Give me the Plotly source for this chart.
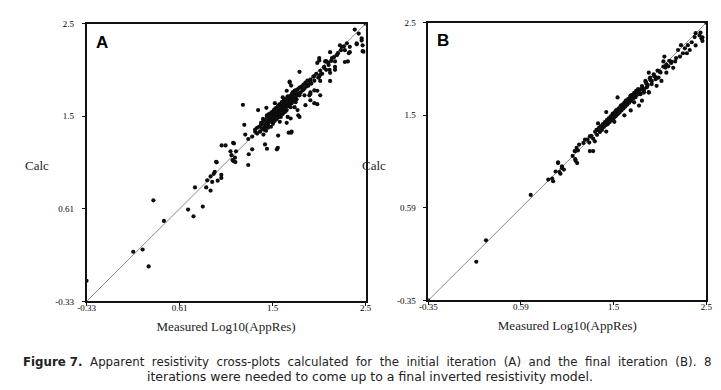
import plotly.graph_objects as go

# ---------------- data ----------------
# Panel A: initial iteration  (Measured Log10(AppRes), Calc)
a_x = [-0.33, 0.144, 0.239, 0.30, 0.348, 0.455, 0.70, 0.755, 0.849, 0.77, 0.884, 0.928, 0.894,
       0.944, 0.928, 0.96, 0.97, 0.99, 1.0, 1.037, 1.037, 1.14, 1.16, 1.18, 1.186, 0.984, 1.04,
       1.156, 1.13, 1.15, 1.256, 1.27, 1.31, 1.31, 1.28, 1.35, 1.40, 1.38, 1.464, 1.48, 1.50,
       1.61, 1.613, 1.63, 1.72, 1.745, 1.70, 1.74, 1.71, 1.817, 1.83, 1.94, 1.98, 2.01, 1.94,
       1.494, 1.50, 1.66, 1.78, 1.795,
       2.39, 2.43, 2.46, 2.41, 2.47, 2.48, 2.34, 2.33, 2.32, 2.29, 2.26, 2.31, 2.21, 2.19, 2.16,
       2.125, 2.135, 2.19, 2.03, 2.01, 2.09, 2.08, 2.04, 1.98, 2.04, 2.14, 2.01, 2.04, 1.94, 1.91,
       1.94, 1.845, 1.73, 1.745, 1.70, 1.78, 1.66, 1.81, 1.88, 1.76,
       1.08, 1.165, 1.175, 1.315, 1.35, 1.60, 1.75, 1.81, 1.89, 1.93, 1.98, 2.03, 2.10, 2.14,
       2.19, 2.29, 2.34, 2.41, 2.46, 2.47, 1.41, 1.58, 1.73, 1.83, 2.03, 2.14, 2.24, 2.5,
       1.38, 1.40, 1.42, 1.43, 1.44, 1.45, 1.46, 1.47, 1.48, 1.48, 1.49, 1.50, 1.50, 1.51, 1.52,
       1.52, 1.53, 1.54, 1.54, 1.55, 1.55, 1.56, 1.56, 1.57, 1.57, 1.58, 1.58, 1.59, 1.59, 1.60,
       1.60, 1.61, 1.61, 1.62, 1.62, 1.63, 1.63, 1.64, 1.64, 1.65, 1.65, 1.66, 1.66, 1.67, 1.67,
       1.68, 1.68, 1.69, 1.69, 1.70, 1.70, 1.71, 1.71, 1.72, 1.73, 1.73, 1.74, 1.75, 1.75, 1.76,
       1.77, 1.77, 1.78, 1.79, 1.80, 1.80, 1.81, 1.82, 1.83, 1.84, 1.85, 1.86, 1.87, 1.88, 1.89,
       1.90, 1.91, 1.92, 1.94, 1.95, 1.97, 1.98, 2.00, 2.02, 2.04, 2.06, 2.08, 2.10, 2.12, 2.15,
       2.18, 2.22, 2.25, 2.28,
       1.53, 1.57, 1.62, 1.66, 1.71, 1.76, 1.51, 1.56, 1.64, 1.69, 1.74, 1.79,
       1.44, 1.46, 1.48, 1.50, 1.52, 1.54, 1.56, 1.58, 1.60, 1.62, 1.64, 1.66, 1.68, 1.70, 1.72,
       1.74, 1.76, 1.78, 1.47, 1.51, 1.55, 1.59, 1.63, 1.67, 1.71, 1.75, 1.79, 1.83, 1.87, 1.91]
a_y = [-0.12, 0.176, 0.199, 0.027, 0.70, 0.49, 0.606, 0.537, 0.636, 0.832, 0.832, 0.80, 0.904,
       0.888, 0.944, 0.97, 0.99, 1.087, 0.90, 0.96, 0.928, 1.16, 1.10, 1.09, 1.20, 1.093, 1.26,
       1.286, 1.20, 1.11, 1.673, 1.47, 1.06, 1.325, 1.37, 1.35, 1.44, 1.40, 1.37, 1.27, 1.226,
       1.236, 1.36, 1.50, 1.39, 1.39, 1.49, 1.534, 1.55, 1.567, 1.55, 1.72, 1.69, 1.68, 1.80,
       1.643, 1.567, 1.666, 1.65, 1.73,
       2.44, 2.40, 2.35, 2.30, 2.28, 2.215, 2.265, 2.20, 2.116, 2.23, 2.265, 2.30, 2.18, 2.116, 2.15,
       2.08, 2.03, 2.03, 2.126, 2.10, 2.116, 2.05, 1.98, 1.966, 1.917, 1.917, 1.817, 1.77, 1.785, 1.87,
       1.90, 1.85, 1.90, 1.87, 1.817, 1.817, 1.75, 1.77, 1.77, 1.75,
       1.26, 1.28, 1.135, 1.17, 1.22, 1.22, 1.40, 1.62, 1.67, 1.77, 1.82, 1.96, 2.12, 2.00,
       2.06, 2.11, 2.21, 2.29, 2.33, 2.22, 1.62, 1.69, 1.91, 2.01, 2.15, 2.21, 2.28, 2.5,
       1.42, 1.38, 1.45, 1.40, 1.47, 1.43, 1.50, 1.44, 1.52, 1.47, 1.41, 1.55, 1.49, 1.46, 1.53,
       1.58, 1.50, 1.55, 1.45, 1.60, 1.52, 1.57, 1.48, 1.62, 1.54, 1.59, 1.51, 1.64, 1.56, 1.60,
       1.53, 1.66, 1.58, 1.62, 1.55, 1.68, 1.60, 1.64, 1.57, 1.70, 1.62, 1.66, 1.58, 1.72, 1.64,
       1.68, 1.60, 1.73, 1.65, 1.70, 1.62, 1.75, 1.67, 1.72, 1.76, 1.68, 1.73, 1.78, 1.70, 1.75,
       1.80, 1.72, 1.77, 1.82, 1.78, 1.73, 1.83, 1.79, 1.85, 1.80, 1.86, 1.82, 1.88, 1.84, 1.90,
       1.86, 1.92, 1.87, 1.93, 1.89, 1.96, 1.92, 1.99, 1.95, 2.02, 1.99, 2.06, 2.03, 2.10, 2.12,
       2.16, 2.20, 2.23, 2.27,
       1.57, 1.61, 1.67, 1.70, 1.76, 1.80, 1.44, 1.50, 1.55, 1.61, 1.65, 1.70,
       1.49, 1.53, 1.46, 1.56, 1.51, 1.59, 1.54, 1.63, 1.57, 1.66, 1.61, 1.69, 1.64, 1.73, 1.66,
       1.70, 1.79, 1.74, 1.42, 1.47, 1.55, 1.53, 1.59, 1.63, 1.69, 1.69, 1.76, 1.77, 1.83, 1.88]

# Panel B: final iteration
b_x = [-0.35, 0.142, 0.242, 0.70, 0.88, 0.92, 0.93, 0.955, 0.98, 0.995, 1.02, 1.04, 1.005,
       1.13, 1.16, 1.176, 1.156, 1.183, 0.98, 1.02, 1.15, 1.17, 1.156, 1.196, 1.24, 1.256,
       1.306, 1.34, 1.306, 1.357, 1.374, 1.39, 1.407, 1.44, 1.474, 1.485, 1.474, 1.507, 1.557,
       1.54, 1.574, 1.59, 1.625, 1.66, 1.725, 1.675, 1.76, 1.81, 1.825, 1.725, 1.86, 1.91, 1.84,
       2.39, 2.43, 2.45, 2.46, 2.38, 2.35, 2.31, 2.33, 2.28, 2.26, 2.30, 2.23, 2.19, 2.18, 2.14,
       2.11, 2.16, 2.09, 2.06, 2.07, 2.01, 2.04, 1.98, 1.94, 1.91, 1.99, 1.89, 1.86, 1.91, 1.81,
       1.775, 1.725, 1.925, 1.875, 2.24, 2.21, 2.44, 2.46, 2.39, 2.5,
       1.28, 1.30, 1.32, 1.34, 1.36, 1.38, 1.40, 1.41, 1.42, 1.43, 1.44, 1.45, 1.46, 1.47, 1.48,
       1.49, 1.50, 1.51, 1.52, 1.53, 1.54, 1.55, 1.56, 1.57, 1.58, 1.59, 1.60, 1.61, 1.62, 1.63,
       1.64, 1.65, 1.66, 1.67, 1.68, 1.69, 1.70, 1.71, 1.72, 1.73, 1.74, 1.75, 1.76, 1.77, 1.78,
       1.79, 1.80, 1.82, 1.84, 1.86, 1.88, 1.90, 1.92, 1.94, 1.96, 1.98, 2.00, 2.03, 2.06, 2.09,
       2.12,
       1.50, 1.53, 1.56, 1.59, 1.62, 1.65, 1.68, 1.71, 1.74, 1.77, 1.80, 1.83,
       1.45, 1.48, 1.51, 1.54, 1.57, 1.60, 1.63, 1.66, 1.69, 1.72, 1.75, 1.78, 1.81, 1.85, 1.89,
       1.93, 1.97, 2.02, 2.08, 2.14]
b_y = [-0.35, 0.047, 0.267, 0.733, 0.89, 0.90, 0.873, 0.973, 1.06, 0.967, 1.007, 0.993, 0.95,
       1.133, 1.083, 1.06, 1.183, 1.19, 1.067, 1.027, 1.183, 1.217, 1.10, 1.25, 1.267, 1.30,
       1.183, 1.183, 1.333, 1.283, 1.40, 1.467, 1.383, 1.433, 1.383, 1.467, 1.583, 1.50, 1.483,
       1.567, 1.60, 1.733, 1.65, 1.55, 1.60, 1.70, 1.683, 1.65, 1.767, 1.75, 1.783, 1.783, 1.70,
       2.393, 2.37, 2.337, 2.313, 2.353, 2.30, 2.27, 2.22, 2.237, 2.187, 2.187, 2.153, 2.137, 2.103,
       2.087, 2.053, 2.037, 1.987, 2.103, 2.153, 1.937, 1.903, 1.92, 1.87, 1.987, 1.853, 1.837,
       1.803, 1.787, 1.77, 1.737, 1.753, 1.937, 1.903, 2.27, 2.22, 2.40, 2.35, 2.267, 2.5,
       1.30, 1.27, 1.34, 1.31, 1.38, 1.35, 1.42, 1.38, 1.44, 1.40, 1.46, 1.43, 1.48, 1.45, 1.50,
       1.46, 1.52, 1.48, 1.54, 1.50, 1.56, 1.52, 1.58, 1.54, 1.60, 1.56, 1.62, 1.58, 1.64, 1.60,
       1.66, 1.62, 1.68, 1.64, 1.70, 1.66, 1.72, 1.68, 1.74, 1.70, 1.76, 1.72, 1.78, 1.74, 1.80,
       1.76, 1.82, 1.78, 1.85, 1.82, 1.89, 1.86, 1.93, 1.90, 1.97, 1.94, 2.01, 1.99, 2.05, 2.07,
       2.11,
       1.49, 1.52, 1.55, 1.58, 1.61, 1.64, 1.67, 1.70, 1.73, 1.76, 1.79, 1.82,
       1.45, 1.47, 1.51, 1.53, 1.57, 1.59, 1.63, 1.65, 1.69, 1.71, 1.75, 1.77, 1.80, 1.83, 1.87,
       1.91, 1.95, 2.00, 2.04, 2.10]

# axis extents, tick positions and tick labels
a_range = [-0.33, 2.5]
b_range = [-0.35, 2.5]
a_tickvals = [-0.33, 0.613, 1.557, 2.5]
a_ticktext = ["-0.33", "0.61", "1.5", "2.5"]
b_tickvals = [-0.35, 0.60, 1.55, 2.5]
b_ticktext = ["-0.35", "0.59", "1.5", "2.5"]

x_title = "Measured Log10(AppRes)"
y_title = "Calc"
caption_line1 = ["<b>Figure 7.</b>", "Apparent", "resistivity", "cross-plots", "calculated", "for", "the",
                 "initial", "iteration", "(A)", "and", "the", "final", "iteration", "(B).", "8"]
caption_line2 = "iterations were needed to come up to a final inverted resistivity model."

# ---------------- figure ----------------
W, H = 721, 390
SERIF = "Liberation Serif, Times New Roman, serif"
SANS = "DejaVu Sans, Verdana, sans-serif"

fig = go.Figure()

# 1:1 reference lines
fig.add_trace(go.Scatter(x=a_range, y=a_range, mode="lines", line=dict(color="#8a8a8a", width=1),
                         xaxis="x", yaxis="y", hoverinfo="skip", showlegend=False))
fig.add_trace(go.Scatter(x=b_range, y=b_range, mode="lines", line=dict(color="#8a8a8a", width=1),
                         xaxis="x2", yaxis="y2", hoverinfo="skip", showlegend=False))

mk = dict(color="#0d0d0d", size=4.2, line=dict(width=0))
fig.add_trace(go.Scatter(x=a_x, y=a_y, mode="markers", marker=mk, xaxis="x", yaxis="y", showlegend=False))
fig.add_trace(go.Scatter(x=b_x, y=b_y, mode="markers", marker=mk, xaxis="x2", yaxis="y2", showlegend=False))


def px_dom_x(l, r):
    return [l / W, r / W]


def px_dom_y(t, b):
    return [1 - b / H, 1 - t / H]


def axis(rng, tv, tt, dom, anchor, title=None):
    d = dict(range=rng, domain=dom, anchor=anchor, tickmode="array", tickvals=tv, ticktext=tt,
             showgrid=False, zeroline=False, showline=True, linecolor="#111", linewidth=1.6,
             mirror=True, ticks="outside", ticklen=3, tickwidth=1, tickcolor="#111",
             tickfont=dict(family=SERIF, size=9, color="#000"), fixedrange=True)
    if title:
        d["title"] = dict(text=title, font=dict(family=SERIF, size=13, color="#222"), standoff=10)
    return d


fig.update_layout(
    width=W, height=H,
    margin=dict(l=0, r=0, t=0, b=0),
    paper_bgcolor="white", plot_bgcolor="white",
    xaxis=axis(a_range, a_tickvals, a_ticktext, px_dom_x(71, 356), "y", x_title),
    yaxis=axis(a_range, a_tickvals, a_ticktext, px_dom_y(11, 296), "x"),
    xaxis2=axis(b_range, b_tickvals, b_ticktext, px_dom_x(420, 704), "y2", x_title),
    yaxis2=axis(b_range, b_tickvals, b_ticktext, px_dom_y(10, 295), "x2"),
)
fig.layout.xaxis.ticklabelstandoff = -6
fig.layout.xaxis2.ticklabelstandoff = -6
fig.layout.yaxis.ticklabelstandoff = 6
fig.layout.yaxis2.ticklabelstandoff = 6

ann = []
# horizontal "Calc" axis labels
for cx in (20, 365):
    ann.append(dict(text=y_title, x=cx / W, y=1 - 157 / H, xref="paper", yref="paper", showarrow=False,
                    font=dict(family=SERIF, size=13, color="#222"), xanchor="center", yanchor="middle"))
# panel letters
ann.append(dict(text="<b>A</b>", x=79 / W, y=1 - 30 / H, xref="paper", yref="paper", showarrow=False,
                font=dict(family="Liberation Sans, Arial, sans-serif", size=17, color="#000"),
                xanchor="left", yanchor="middle"))
ann.append(dict(text="<b>B</b>", x=427 / W, y=1 - 28 / H, xref="paper", yref="paper", showarrow=False,
                font=dict(family="Liberation Sans, Arial, sans-serif", size=17, color="#000"),
                xanchor="left", yanchor="middle"))
# caption (first line justified with slightly wider word gaps)
gap = " \u00a0"
ann.append(dict(text=gap.join(caption_line1), x=4 / W, y=1 - 358 / H, xref="paper", yref="paper",
                showarrow=False, font=dict(family=SANS, size=11.8, color="#222"),
                xanchor="left", yanchor="middle"))
ann.append(dict(text=caption_line2, x=361 / W, y=1 - 373 / H, xref="paper", yref="paper",
                showarrow=False, font=dict(family=SANS, size=12.5, color="#222"),
                xanchor="center", yanchor="middle"))
fig.update_layout(annotations=ann)

fig.write_html("out.html")
